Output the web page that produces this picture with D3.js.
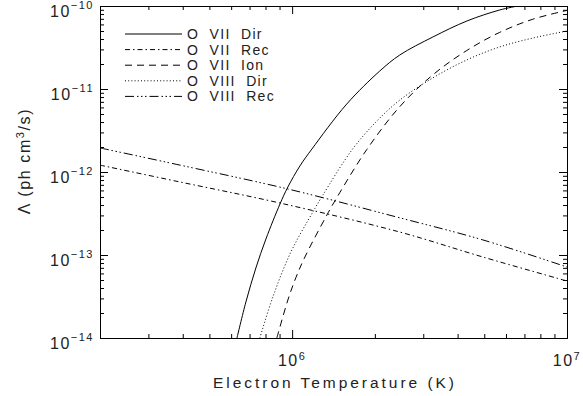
<!DOCTYPE html>
<html>
<head>
<meta charset="utf-8">
<script src="https://cdn.jsdelivr.net/npm/d3@7"></script>
<style>
  body { margin: 0; background: #fff; }
  text { font-family: "Liberation Sans", Arial, sans-serif; fill: #222; }
</style>
</head>
<body>
<div id="chart"></div>
<script>
// series (T in K, rate in ph cm^3/s)
const tempO7Dir = [6.30e5, 6.79e5, 7.38e5, 8.03e5, 9.03e5, 9.65e5, 1.067e6, 1.18e6, 1.58e6, 2.085e6, 2.465e6, 3.25e6, 4.32e6, 5.69e6, 6.62e6];
const rateO7Dir = [1.0e-14, 2.72e-14, 6.97e-14, 1.56e-13, 4.11e-13, 6.60e-13, 1.18e-12, 1.89e-12, 6.59e-12, 1.65e-11, 2.57e-11, 4.23e-11, 6.59e-11, 8.95e-11, 1.0e-10];

const tempO7Rec = [2e5, 3.91e5, 9.03e5, 2.465e6, 4.94e6, 1e7];
const rateO7Rec = [1.21e-12, 7.58e-13, 4.23e-13, 1.89e-13, 9.46e-14, 4.86e-14];

const tempO7Ion = [8.80e5, 9.65e5, 1.032e6, 1.113e6, 1.338e6, 1.455e6, 1.87e6, 2.465e6, 3.25e6, 4.32e6, 5.69e6, 7.51e6, 1e7];
const rateO7Ion = [1.0e-14, 2.87e-14, 5.34e-14, 9.46e-14, 3.03e-13, 4.93e-13, 1.87e-12, 6.14e-12, 1.48e-11, 2.91e-11, 4.81e-11, 6.93e-11, 8.85e-11];

const tempO8Dir = [7.63e5, 8.51e5, 9.90e5, 1.19e6, 1.294e6, 1.65e6, 2.017e6, 2.465e6, 3.25e6, 4.32e6, 5.69e6, 7.51e6, 1e7];
const rateO8Dir = [1.0e-14, 3.12e-14, 1.09e-13, 3.30e-13, 5.28e-13, 1.84e-12, 4.00e-12, 7.36e-12, 1.36e-11, 2.24e-11, 3.21e-11, 4.11e-11, 5.00e-11];

const tempO8Rec = [2e5, 3.91e5, 9.65e5, 2.40e6, 4.94e6, 1e7];
const rateO8Rec = [1.95e-12, 1.21e-12, 6.24e-13, 2.87e-13, 1.52e-13, 7.16e-14];

const seriesNames = ["O  VII  Dir", "O  VII  Rec", "O  VII  Ion", "O  VIII  Dir", "O  VIII  Rec"];
const xTickExponents = [6, 7];
const yTickExponents = [-14, -13, -12, -11, -10];

const width = 583, height = 396;
const margin = {top: 6, right: 16, bottom: 58, left: 100};
const innerW = width - margin.left - margin.right;
const innerH = height - margin.top - margin.bottom;

const dashes = [null, "5,3,1.5,3", "7,5", "1,2.2", "9,3,1.5,2.5,1.5,2.5,1.5,3"];

const series = [
  {t: tempO7Dir, r: rateO7Dir},
  {t: tempO7Rec, r: rateO7Rec},
  {t: tempO7Ion, r: rateO7Ion},
  {t: tempO8Dir, r: rateO8Dir},
  {t: tempO8Rec, r: rateO8Rec}
].map((s, i) => ({name: seriesNames[i], pts: s.t.map((t, j) => [t, s.r[j]])}));

const svg = d3.select("#chart").append("svg")
  .attr("width", width).attr("height", height);

const g = svg.append("g").attr("transform", "translate(" + margin.left + "," + margin.top + ")");

const x = d3.scaleLog().domain([2e5, 1e7]).range([0, innerW]);
const y = d3.scaleLog().domain([1e-14, 1e-10]).range([innerH, 0]);

// minor and major tick values
const xMinor = [], yMinor = [];
for (let e = 5; e <= 6; e++) for (let m = 2; m <= 9; m++) { const v = m * Math.pow(10, e); if (v > 2e5 && v < 1e7) xMinor.push(v); }
for (let e = -14; e <= -11; e++) for (let m = 2; m <= 9; m++) yMinor.push(m * Math.pow(10, e));
const xMajor = xTickExponents.map(e => Math.pow(10, e));
const yMajor = yTickExponents.map(e => Math.pow(10, e));

function addAxis(axisFn, scale, vals, size, transform) {
  const a = g.append("g").attr("transform", transform)
    .call(axisFn(scale).tickValues(vals).tickSizeInner(size).tickSizeOuter(0).tickFormat(""));
  a.selectAll("path, line").attr("stroke", "#000").attr("stroke-width", 1);
  return a;
}
addAxis(d3.axisBottom, x, xMinor, -4, "translate(0," + innerH + ")");
addAxis(d3.axisBottom, x, xMajor, -8, "translate(0," + innerH + ")");
addAxis(d3.axisTop, x, xMinor, -4, "translate(0,0)");
addAxis(d3.axisTop, x, xMajor, -8, "translate(0,0)");
addAxis(d3.axisLeft, y, yMinor, -4, "translate(0,0)");
addAxis(d3.axisLeft, y, yMajor, -8, "translate(0,0)");
addAxis(d3.axisRight, y, yMinor, -4, "translate(" + innerW + ",0)");
addAxis(d3.axisRight, y, yMajor, -8, "translate(" + innerW + ",0)");

// tick labels
xTickExponents.forEach(e => {
  const t = g.append("text").attr("x", x(Math.pow(10, e))).attr("y", innerH + 28)
    .attr("text-anchor", "middle").style("font-size", "16px").style("letter-spacing", "1.5px");
  t.append("tspan").text("10");
  t.append("tspan").attr("dy", -6).style("font-size", "11px").text(e);
});
yTickExponents.forEach(e => {
  const t = g.append("text").attr("x", -6).attr("y", y(Math.pow(10, e)) + 11)
    .attr("text-anchor", "end").style("font-size", "16px").style("letter-spacing", "1.5px");
  t.append("tspan").text("10");
  t.append("tspan").attr("dy", -8).style("font-size", "11px").text("\u2212" + (-e));
});

// axis titles
g.append("text").attr("x", innerW / 2).attr("y", innerH + 50)
  .attr("text-anchor", "middle").style("font-size", "15.5px")
  .attr("textLength", 241).attr("lengthAdjust", "spacing")
  .text("Electron Temperature (K)");

const yt = svg.append("text").attr("transform", "translate(30,161) rotate(-90)")
  .attr("text-anchor", "middle").style("font-size", "16px").style("letter-spacing", "1.6px");
yt.append("tspan").text("\u039b (ph cm");
yt.append("tspan").attr("dy", -6).style("font-size", "11px").text("3");
yt.append("tspan").attr("dy", 6).text("/s)");

// curves
g.append("clipPath").attr("id", "clip").append("rect").attr("width", innerW).attr("height", innerH);
const line = d3.line().x(d => x(d[0])).y(d => y(d[1])).curve(d3.curveCatmullRom.alpha(0.5));
g.append("g").attr("clip-path", "url(#clip)").selectAll("path").data(series).enter().append("path")
  .attr("d", d => line(d.pts))
  .attr("fill", "none").attr("stroke", "#000").attr("stroke-width", 1)
  .attr("stroke-dasharray", (d, i) => dashes[i]);

// legend
const leg = g.append("g").attr("transform", "translate(25,28)");
series.forEach((s, i) => {
  const row = leg.append("g").attr("transform", "translate(0," + (i * 15.6) + ")");
  row.append("line").attr("x1", 0).attr("x2", 57).attr("y1", 0).attr("y2", 0)
    .attr("stroke", "#000").attr("stroke-width", 1).attr("stroke-dasharray", dashes[i]);
  row.append("text").attr("x", 62).attr("y", 5).style("font-size", "14px")
    .style("white-space", "pre").style("letter-spacing", "1.3px").text(s.name);
});
</script>
</body>
</html>
